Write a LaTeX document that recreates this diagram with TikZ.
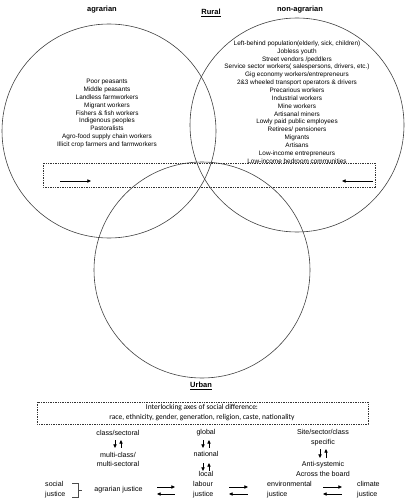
\documentclass[tikz,border=0pt]{standalone}
\usepackage{fontspec}
\setmainfont{Liberation Sans}
\newfontfamily\carlito{Carlito}
\usetikzlibrary{arrows.meta}
\tikzset{%
    >={Latex[length=3mm]}
}

\begin{document}
\begin{tikzpicture}[x=1pt, y=-1pt, >={Triangle[length=3.6pt, width=3.2pt]},
    every node/.style={inner sep=0pt, align=center},
    circ/.style={draw=black!75, line width=0.6pt},
    title/.style={font=\fontsize{7.5}{9}\selectfont\bfseries},
    group/.style={font=\fontsize{6.4}{7.85}\selectfont},
    axis/.style={font=\fontsize{7.1}{9.8}\selectfont},
    dotbox/.style={draw=black!80, line width=0.6pt, dash pattern=on 1.4pt off 1pt}]
  \useasboundingbox (0,0) rectangle (405,500);

  % the three circles
  \draw[circ] (109,131) circle[radius=107pt];
  \draw[circ] (297,125) circle[radius=107pt];
  \draw[circ] (202,270) circle[radius=108pt];

  \node[title] (rural) at (211,13) {\underline{Rural}};
  \node[title] (agr) at (102,10) {agrarian};
  \node[title] (nonagr) at (300,10) {non-agrarian};
  \node[title] (urban) at (201,386) {\underline{Urban}};

  \node[group] (agrlist) at (107,113.5) {Poor peasants\\Middle peasants\\Landless farmworkers\\Migrant workers\\Fishers \& fish workers\\Indigenous peoples\\Pastoralists\\Agro-food supply chain workers\\Illicit crop farmers and farmworkers};
  \node[group] (nonlist) at (297,102) {Left-behind population(elderly, sick, children)\\Jobless youth\\Street vendors /peddlers\\Service sector workers( salespersons, drivers, etc.)\\Gig economy workers/entrepreneurs\\2\&3 wheeled transport operators \& drivers\\Precarious workers\\Industrial workers\\Mine workers\\Artisanal miners\\Lowly paid public employees\\Retirees/ pensioners\\Migrants\\Artisans\\Low-income entrepreneurs\\Low-income bedroom communities};

  % dashed strip with the two arrows
  \draw[dotbox] (43,163) rectangle (375,187);
  \coordinate (la) at (60,181);
  \coordinate (lb) at (91,181);
  \coordinate (ra) at (373,181);
  \coordinate (rb) at (342,181);
  \draw[->, line width=0.5pt] (la) -- (lb);
  \draw[->, line width=0.5pt] (ra) -- (rb);

  % axes of difference
  \draw[dotbox] (37,402) rectangle (368,424);
  \node[font=\fontsize{7.5}{10}\selectfont\carlito] (axes) at (202,413) {Interlocking axes of social difference:\\race, ethnicity, gender, generation, religion, caste, nationality};

  \node[axis] (cls) at (118,433) {class/sectoral};
  \node[axis] (multi) at (118,459.5) {multi-class/\\multi-sectoral};
  \node[axis] (glob) at (206,433) {global};
  \node[axis] (nat) at (206,454) {national};
  \node[axis] (loc) at (206,474) {local};
  \node[axis] (site) at (323,438) {Site/sector/class\\specific};
  \node[axis] (anti) at (323,469) {Anti-systemic\\Across the board};

  \node[axis, anchor=west, align=left] (soc) at (45,490) {social\\justice};
  \node[axis] (agrj) at (118.5,490) {agrarian justice};
  \node[axis, anchor=west, align=left] (lab) at (193,490) {labour\\justice};
  \node[axis, anchor=west, align=left] (env) at (267,490) {environmental\\justice};
  \node[axis, anchor=west, align=left] (clim) at (357,490) {climate\\justice};

  % up and down arrows
  \foreach \x/\ya/\yb in {115/440/448, 121/440/448, 203/440/448, 209/440/448, 203/463/471, 209/463/471, 320/449/458, 326/449/458} {
    \coordinate (v\x\ya) at (\x,\ya);
    \coordinate (w\x\ya) at (\x,\yb);
  }
  \draw[->, line width=0.5pt] (v115440) -- (w115440);
  \draw[<-, line width=0.5pt] (v121440) -- (w121440);
  \draw[->, line width=0.5pt] (v203440) -- (w203440);
  \draw[<-, line width=0.5pt] (v209440) -- (w209440);
  \draw[->, line width=0.5pt] (v203463) -- (w203463);
  \draw[<-, line width=0.5pt] (v209463) -- (w209463);
  \draw[->, line width=0.5pt] (v320449) -- (w320449);
  \draw[<-, line width=0.5pt] (v326449) -- (w326449);

  % left and right arrows
  \foreach \xa/\xb in {157/175, 229/248, 323/342} {
    \coordinate (p\xa) at (\xa,487);
    \coordinate (q\xa) at (\xb,487);
    \coordinate (r\xa) at (\xa,494);
    \coordinate (s\xa) at (\xb,494);
    \draw[->, line width=0.5pt] (p\xa) -- (q\xa);
    \draw[<-, line width=0.5pt] (r\xa) -- (s\xa);
  }

  % bracket after social justice
  \coordinate (b1) at (72,483);
  \coordinate (b2) at (78,483);
  \coordinate (b3) at (78,497);
  \coordinate (b4) at (72,497);
  \coordinate (bm) at (78,490);
  \coordinate (bn) at (82,490);
  \draw[line width=0.4pt, black!70] (b1) -- (b2) -- (b3) -- (b4);
  \draw[line width=0.4pt, black!70] (bm) -- (bn);
\end{tikzpicture}
\end{document}
